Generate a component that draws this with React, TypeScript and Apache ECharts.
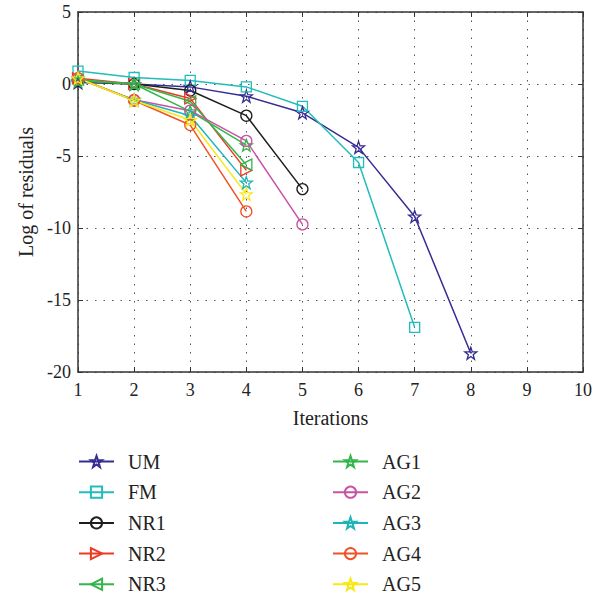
import React, { useEffect, useRef } from "react";
import * as echarts from "echarts";

const iterations = [1, 2, 3, 4, 5, 6, 7, 8, 9, 10];
const seriesNames = ["UM", "FM", "NR1", "NR2", "NR3", "AG1", "AG2", "AG3", "AG4", "AG5"];
const UM = [0.1, 0.0, -0.2, -0.85, -2.0, -4.4, -9.2, -18.7];
const FM = [0.9, 0.45, 0.25, -0.2, -1.55, -5.45, -16.9];
const NR1 = [0.2, 0.0, -0.45, -2.2, -7.3];
const NR2 = [0.4, 0.0, -1.0, -6.0];
const NR3 = [0.3, 0.0, -1.2, -5.6];
const AG1 = [0.2, 0.0, -1.9, -4.25];
const AG2 = [0.4, -1.1, -1.85, -3.95, -9.75];
const AG3 = [0.4, -1.1, -2.2, -6.85];
const AG4 = [0.4, -1.15, -2.85, -8.85];
const AG5 = [0.4, -1.15, -2.5, -7.65];
const yTicks = [-20, -15, -10, -5, 0, 5];

const STAR =
  "path://M0,-10L2.35,-3.24L9.51,-3.09L3.8,1.24L5.88,8.09L0,4L-5.88,8.09L-3.8,1.24L-9.51,-3.09L-2.35,-3.24Z";

const styles: Record<string, { color: string; symbol: string; size: number; rotate?: number }> = {
  UM: { color: "#362c93", symbol: STAR, size: 12 },
  FM: { color: "#22bcbc", symbol: "rect", size: 10 },
  NR1: { color: "#1e1e1e", symbol: "circle", size: 11 },
  NR2: { color: "#ee3a23", symbol: "triangle", size: 11, rotate: -90 },
  NR3: { color: "#33b54a", symbol: "triangle", size: 11, rotate: 90 },
  AG1: { color: "#33b54a", symbol: STAR, size: 12 },
  AG2: { color: "#c953a3", symbol: "circle", size: 11 },
  AG3: { color: "#1fb4b6", symbol: STAR, size: 12 },
  AG4: { color: "#f05228", symbol: "circle", size: 11 },
  AG5: { color: "#f7e816", symbol: STAR, size: 12 },
};

const values: Record<string, number[]> = { UM, FM, NR1, NR2, NR3, AG1, AG2, AG3, AG4, AG5 };

const FONT = "Liberation Serif";

export default function App() {
  const ref = useRef<HTMLDivElement>(null);
  useEffect(() => {
    if (!ref.current) return;
    const chart = echarts.init(ref.current, undefined, { renderer: "svg" });
    const series = seriesNames.map((name) => {
      const s = styles[name];
      return {
        name,
        type: "line",
        xAxisIndex: 0,
        yAxisIndex: 0,
        data: values[name].map((v, i) => [iterations[i], v]),
        color: s.color,
        symbol: s.symbol,
        symbolSize: s.size,
        symbolRotate: s.rotate || 0,
        lineStyle: { color: s.color, width: 1.5 },
        itemStyle: { color: "rgba(255,255,255,0)", borderColor: s.color, borderWidth: 1.3 },
        showSymbol: true,
      };
    });
    const legendCommon = {
      orient: "vertical",
      top: 451.5,
      height: 200,
      padding: 0,
      itemWidth: 35,
      itemHeight: 14,
      itemGap: 10.7,
      textStyle: { fontFamily: FONT, fontSize: 20, color: "#222", lineHeight: 18, padding: [0, 0, 0, 9] },
    };
    const axisLineStyle = { show: true, onZero: false, lineStyle: { color: "#333", width: 1.5 } };
    const tickStyle = { show: true, inside: true, length: 5, lineStyle: { color: "#333" } };
    const gridLine = { show: true, lineStyle: { type: [1.5, 7], color: "#555", width: 1 } };
    chart.setOption({
      animation: false,
      backgroundColor: "#fff",
      grid: { left: 78, right: 13, top: 12, bottom: 223, containLabel: false },
      legend: [
        { ...legendCommon, left: 78, data: seriesNames.slice(0, 5) },
        { ...legendCommon, left: 332, data: seriesNames.slice(5) },
      ],
      xAxis: [
        {
          type: "value",
          min: iterations[0],
          max: iterations[iterations.length - 1],
          interval: 1,
          name: "Iterations",
          nameLocation: "middle",
          nameGap: 36,
          nameTextStyle: { fontFamily: FONT, fontSize: 20, color: "#222" },
          axisLine: axisLineStyle,
          axisTick: tickStyle,
          axisLabel: { fontFamily: FONT, fontSize: 18, color: "#222", margin: 9 },
          splitLine: gridLine,
        },
        {
          type: "value",
          position: "top",
          min: iterations[0],
          max: iterations[iterations.length - 1],
          interval: 1,
          axisLine: axisLineStyle,
          axisTick: tickStyle,
          axisLabel: { show: false },
          splitLine: { show: false },
        },
      ],
      yAxis: [
        {
          type: "value",
          min: yTicks[0],
          max: yTicks[yTicks.length - 1],
          interval: 5,
          name: "Log of residuals",
          nameLocation: "middle",
          nameGap: 42,
          nameTextStyle: { fontFamily: FONT, fontSize: 20, color: "#222" },
          axisLine: axisLineStyle,
          axisTick: tickStyle,
          axisLabel: { fontFamily: FONT, fontSize: 18, color: "#222", margin: 7 },
          splitLine: gridLine,
        },
        {
          type: "value",
          position: "right",
          min: yTicks[0],
          max: yTicks[yTicks.length - 1],
          interval: 5,
          axisLine: axisLineStyle,
          axisTick: tickStyle,
          axisLabel: { show: false },
          splitLine: { show: false },
        },
      ],
      series,
    });
    return () => chart.dispose();
  }, []);
  return <div ref={ref} style={{ width: 596, height: 595, position: "absolute", left: 0, top: 0 }} />;
}
